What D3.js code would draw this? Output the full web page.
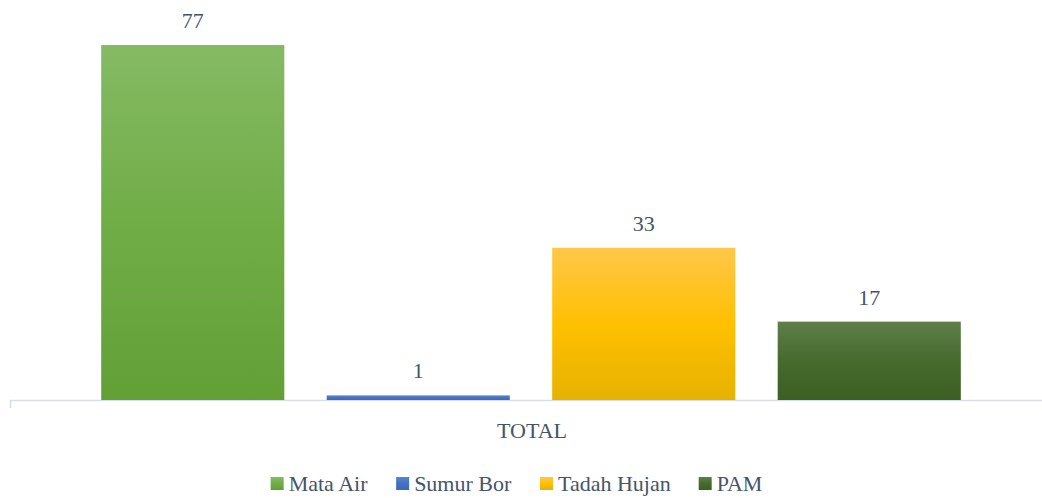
<!DOCTYPE html>
<html>
<head>
<meta charset="utf-8">
<script src="https://cdn.jsdelivr.net/npm/d3@7"></script>
<style>
  html, body { margin: 0; padding: 0; background: #fff; }
  svg { display: block; }
  text { font-family: "Liberation Serif", "DejaVu Serif", serif; fill: #44546a; }
</style>
</head>
<body>
<svg id="chart" width="1042" height="498"></svg>
<script>
// Source of clean water, counts per type
const categories = ["TOTAL"];
const seriesNames = ["Mata Air", "Sumur Bor", "Tadah Hujan", "PAM"];
const seriesValues = [77, 1, 33, 17];
// gradient stops per series: top, middle, bottom
const seriesColors = [
  ["#85ba63", "#70ad47", "#62a036"],
  ["#5a84cf", "#4472c4", "#3c68b8"],
  ["#ffc74a", "#ffc000", "#e6b200"],
  ["#5f7e4b", "#466b2d", "#3c5f24"]
];

const FONT = '"Liberation Serif", "DejaVu Serif", serif';
const FS = 22;

const svg = d3.select("#chart");
const defs = svg.append("defs");

seriesColors.forEach((c, i) => {
  const g = defs.append("linearGradient")
    .attr("id", "grad" + i)
    .attr("x1", 0).attr("y1", 0).attr("x2", 0).attr("y2", 1);
  g.append("stop").attr("offset", "0%").attr("stop-color", c[0]);
  g.append("stop").attr("offset", "50%").attr("stop-color", c[1]);
  g.append("stop").attr("offset", "100%").attr("stop-color", c[2]);
});

const baseY = 400;
const y = d3.scaleLinear().domain([0, 80]).range([baseY, 31.2]);

const x0 = d3.scaleBand().domain(categories).range([10, 1054]);
const x1 = d3.scaleBand().domain(seriesNames)
  .range([80, 982]).paddingInner(0.188).paddingOuter(0.094);

// category axis
const axis = d3.axisBottom(x0).tickSize(0).tickSizeOuter(8);
const axG = svg.append("g").attr("transform", `translate(0,${baseY})`).call(axis);
axG.select(".domain").attr("stroke", "#d9dee6").attr("stroke-width", 1.6);
axG.selectAll(".tick text")
  .attr("y", 38).attr("dy", 0)
  .attr("font-family", FONT)
  .attr("font-size", FS)
  .attr("fill", "#44546a");

// bars
const data = seriesNames.map((s, i) => ({ name: s, value: seriesValues[i], i }));
const gBars = svg.append("g");
gBars.selectAll("rect").data(data).join("rect")
  .attr("x", d => x1(d.name))
  .attr("y", d => y(d.value))
  .attr("width", x1.bandwidth())
  .attr("height", d => baseY - y(d.value))
  .attr("fill", d => `url(#grad${d.i})`);

// value labels
gBars.selectAll("text").data(data).join("text")
  .attr("x", d => x1(d.name) + x1.bandwidth() / 2)
  .attr("y", d => y(d.value) - 17)
  .attr("text-anchor", "middle")
  .attr("font-size", FS)
  .text(d => d.value);

// legend
const legend = svg.append("g");
const items = legend.selectAll("g").data(data).join("g");
items.append("rect")
  .attr("width", 13).attr("height", 13).attr("y", -14)
  .attr("fill", d => `url(#grad${d.i})`);
items.append("text")
  .attr("x", 18).attr("y", 0)
  .attr("font-size", FS)
  .text(d => d.name);
let pos = 0;
const gap = 28;
items.each(function () {
  const w = this.getBBox().width;
  d3.select(this).attr("transform", `translate(${pos},0)`);
  pos += w + gap;
});
const totalW = pos - gap;
legend.attr("transform", `translate(${516.5 - totalW / 2},491)`);
</script>
</body>
</html>
